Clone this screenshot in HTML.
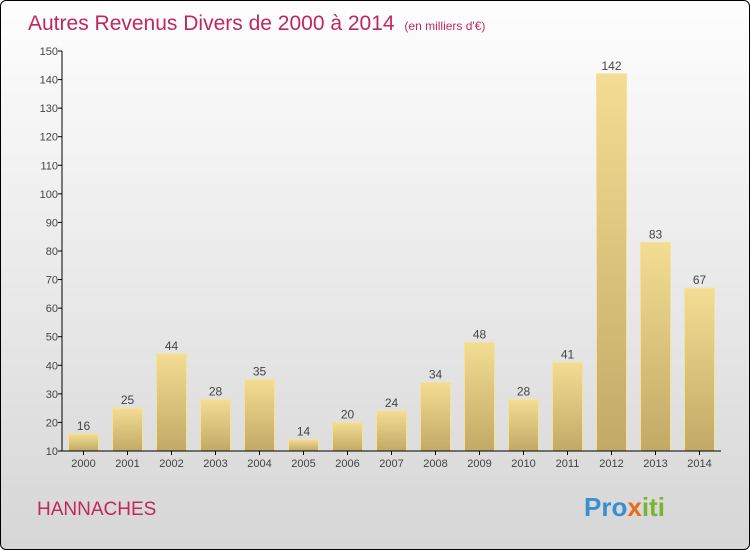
<!DOCTYPE html>
<html><head><meta charset="utf-8"><style>
html,body{margin:0;padding:0;}
body{width:750px;height:550px;overflow:hidden;font-family:"Liberation Sans",sans-serif;}
#frame{position:absolute;left:0;top:0;width:748px;height:548px;border:1px solid #000;border-radius:6px;background:linear-gradient(#fefefe,#d6d6d6);overflow:hidden;}
svg text{font-family:"Liberation Sans",sans-serif;}
</style></head><body>
<div id="frame">
<svg id="chart" width="750" height="550">
<defs>
<linearGradient id="bg" x1="0" y1="0" x2="0" y2="1"><stop offset="0" stop-color="#f3dc93"/><stop offset="1" stop-color="#c2aa66"/></linearGradient>
</defs>
<text x="27" y="29" font-size="21" fill="#c0285a">Autres Revenus Divers de 2000 à 2014 <tspan font-size="12" dx="4">(en milliers d'€)</tspan></text>
<text x="36" y="514" font-size="19" fill="#c0285a">HANNACHES</text>
<text x="583" y="515" font-size="26" font-weight="bold"><tspan fill="#3a8fd0">Pro</tspan><tspan fill="#e86a1a">x</tspan><tspan fill="#7ab530">iti</tspan></text>
<g id="g"></g>
</svg>
</div>
<script>
const categories=["2000","2001","2002","2003","2004","2005","2006","2007","2008","2009","2010","2011","2012","2013","2014"];
const values=[16,25,44,28,35,14,20,24,34,48,28,41,142,83,67];
const yTicks=[10,20,30,40,50,60,70,80,90,100,110,120,130,140,150];
const NS="http://www.w3.org/2000/svg";
const g=document.getElementById('g');
const y0=450,y1=50,vmin=10,vmax=150,axX=61,x0=82.5,step=44;
function y(v){return y0-(v-vmin)/(vmax-vmin)*(y0-y1);}
function x(i){return x0+i*step;}
function mk(t,a){const e=document.createElementNS(NS,t);for(const k in a)e.setAttribute(k,a[k]);g.appendChild(e);return e;}
values.forEach((v,i)=>{
 const r=mk('rect',{x:x(i)-15,y:y(v),width:30,height:y0-y(v),fill:'url(#bg)',stroke:'#f5e29a','stroke-width':1});
 
 
 const t=mk('text',{x:x(i),y:y(v)-4,'font-size':12,fill:'#444','text-anchor':'middle'});t.textContent=v;
 
 
 const c=mk('text',{x:x(i),y:466,'font-size':11,fill:'#444','text-anchor':'middle'});c.textContent=categories[i];
 
 
 mk('line',{x1:x(i),x2:x(i),y1:450,y2:454,stroke:'#000'});
});
yTicks.forEach(v=>{
 mk('line',{x1:57,x2:61,y1:y(v),y2:y(v),stroke:'#000'});
 const t=mk('text',{x:57,y:y(v)+4,'font-size':11,fill:'#444','text-anchor':'end'});t.textContent=v;
 
 
});
const ya=mk('line',{x1:axX,x2:axX,y1:y1,y2:y0,stroke:'#000'});


const xa=mk('line',{x1:axX,x2:720,y1:y0,y2:y0,stroke:'#000'});


</script>
</body></html>
